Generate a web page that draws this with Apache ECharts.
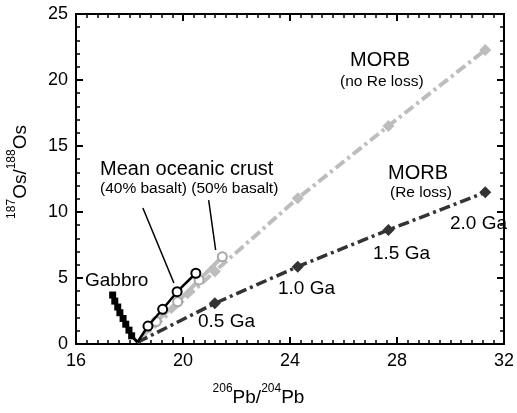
<!DOCTYPE html>
<html><head><meta charset="utf-8">
<script src="https://cdn.jsdelivr.net/npm/echarts@6/dist/echarts.min.js"></script>
<style>html,body{margin:0;padding:0;background:#fff}#c{width:517px;height:413px}</style>
</head><body><div id="c"></div>
<script>
// ---- data ----
var ages = ['0', '0.5 Ga', '1.0 Ga', '1.5 Ga', '2.0 Ga'];
var morbPb = [18.3, 21.19, 24.29, 27.68, 31.30];
var morbOsNoLoss = [0.13, 5.50, 11.04, 16.52, 22.27];
var morbOsReLoss = [0.13, 3.08, 5.86, 8.64, 11.49];
var crust40Pb = [18.3, 18.69, 19.24, 19.78, 20.48];
var crust40Os = [0.13, 1.36, 2.63, 3.96, 5.36];
var crust50Pb = [18.3, 19.0, 19.8, 20.6, 21.47];
var crust50Os = [0.13, 1.70, 3.20, 4.85, 6.61];
var gabbroPb = [17.37, 17.45, 17.56, 17.64, 17.76, 17.86, 17.98, 18.08, 18.3];
var gabbroOs = [3.71, 3.25, 2.80, 2.37, 1.93, 1.50, 1.05, 0.62, 0.13];
var leader40 = [[18.5, 10.3], [19.66, 4.62]];
var leader50 = [[20.96, 10.9], [21.22, 7.12]];
var xTicks = [16, 20, 24, 28, 32];
var yTicks = [0, 5, 10, 15, 20, 25];

var FONT = '"Liberation Sans", Arial, Helvetica, sans-serif';
var X0 = xTicks[0], X1 = xTicks[xTicks.length - 1], Y0 = yTicks[0], Y1 = yTicks[yTicks.length - 1];
function pts(xs, ys) {
  return xs.map(function (x, i) {
    var p = { value: [x, ys[i]] };
    if (i === 0) p.symbol = 'none';
    return p;
  });
}
function lastNone(xs, ys) {
  return xs.map(function (x, i) {
    var p = { value: [x, ys[i]] };
    if (i === xs.length - 1) p.symbol = 'none';
    return p;
  });
}
var supRich = {
  n: { fontSize: 19, fontFamily: FONT, fill: '#000', lineHeight: 24, verticalAlign: 'bottom' },
  sup: { fontSize: 12, fontFamily: FONT, fill: '#000', lineHeight: 24, verticalAlign: 'top', padding: [0, 0, 10, 0] }
};
function axisDef(extra, split, labels) {
  var a = {
    type: 'value',
    axisLine: { show: true, onZero: false, lineStyle: { color: '#000', width: 2 } },
    axisTick: { show: true, inside: true, length: 7, lineStyle: { color: '#000', width: 2 } },
    minorTick: { show: true, splitNumber: split, length: 4, lineStyle: { color: '#000', width: 1.5 } },
    splitLine: { show: false },
    axisLabel: labels ? { fontSize: 18, fontFamily: FONT, color: '#000', margin: 8 } : { show: false }
  };
  for (var k in extra) a[k] = extra[k];
  return a;
}

var chart = echarts.init(document.getElementById('c'), null, { renderer: 'canvas' });
var option = {
  animation: false,
  grid: { left: 76, right: 12, top: 14, bottom: 69, show: true, borderColor: '#000', borderWidth: 2 },
  xAxis: [
    axisDef({ min: X0, max: X1, interval: 4 }, 10, true),
    axisDef({ position: 'top', min: X0, max: X1, interval: 4 }, 10, false)
  ],
  yAxis: [
    axisDef({ min: Y0, max: Y1, interval: 5 }, 5, true),
    axisDef({ position: 'right', min: Y0, max: Y1, interval: 5 }, 5, false)
  ],
  series: [
    { name: 'frame', type: 'line', data: [[X0, Y0], [X0, Y1], [X1, Y1], [X1, Y0], [X0, Y0]],
      symbol: 'none', clip: false, silent: true, lineStyle: { color: '#000', width: 2 }, z: 1 },
    { name: 'MORB (no Re loss)', type: 'line', data: pts(morbPb, morbOsNoLoss),
      lineStyle: { color: '#bdbdbd', width: 4, type: [11, 4, 3, 4] },
      symbol: 'diamond', symbolSize: 12, itemStyle: { color: '#bdbdbd' }, z: 2 },
    { name: '50% basalt', type: 'line', data: pts(crust50Pb, crust50Os),
      lineStyle: { color: '#bdbdbd', width: 4 },
      symbol: 'circle', symbolSize: 9, itemStyle: { color: '#fff', borderColor: '#a8a8a8', borderWidth: 2 }, z: 3 },
    { name: 'MORB (Re loss)', type: 'line', data: pts(morbPb, morbOsReLoss),
      lineStyle: { color: '#333', width: 3.5, type: [11, 4, 3, 4] },
      symbol: 'diamond', symbolSize: 12, itemStyle: { color: '#333' }, z: 4 },
    { name: '40% basalt', type: 'line', data: pts(crust40Pb, crust40Os),
      lineStyle: { color: '#000', width: 2.5 },
      symbol: 'circle', symbolSize: 9, itemStyle: { color: '#fff', borderColor: '#000', borderWidth: 2 }, z: 5 },
    { name: 'Gabbro', type: 'line', data: lastNone(gabbroPb, gabbroOs),
      lineStyle: { color: '#000', width: 3 },
      symbol: 'rect', symbolSize: 7, itemStyle: { color: '#000' }, z: 5 },
    { name: 'lead40', type: 'line', data: leader40, symbol: 'none',
      lineStyle: { color: '#000', width: 1.5 }, z: 6 },
    { name: 'lead50', type: 'line', data: leader50, symbol: 'none',
      lineStyle: { color: '#000', width: 1.5 }, z: 6 }
  ],
  graphic: [
    { type: 'text', left: 'center', top: 383, style: { text: '{sup|206}{n|Pb/}{sup|204}{n|Pb}', rich: supRich } },
    { type: 'text', left: 6, top: 125, rotation: Math.PI / 2,
      style: { text: '{sup|187}{n|Os/}{sup|188}{n|Os}', rich: supRich } },
    { type: 'text', left: 85, top: 271, style: { text: 'Gabbro', font: '19px ' + FONT, fill: '#000' } },
    { type: 'text', left: 100, top: 159, style: { text: 'Mean oceanic crust', font: '20px ' + FONT, fill: '#000' } },
    { type: 'text', left: 100, top: 181, style: { text: '(40% basalt) (50% basalt)', font: '15.5px ' + FONT, fill: '#000' } },
    { type: 'text', left: 350, top: 50, style: { text: 'MORB', font: '20px ' + FONT, fill: '#000' } },
    { type: 'text', left: 340, top: 74, style: { text: '(no Re loss)', font: '15.5px ' + FONT, fill: '#000' } },
    { type: 'text', left: 388, top: 163, style: { text: 'MORB', font: '20px ' + FONT, fill: '#000' } },
    { type: 'text', left: 390, top: 185, style: { text: '(Re loss)', font: '15.5px ' + FONT, fill: '#000' } },
    { type: 'text', left: 198, top: 312, style: { text: ages[1], font: '19px ' + FONT, fill: '#000' } },
    { type: 'text', left: 278, top: 279, style: { text: ages[2], font: '19px ' + FONT, fill: '#000' } },
    { type: 'text', left: 373, top: 244, style: { text: ages[3], font: '19px ' + FONT, fill: '#000' } },
    { type: 'text', left: 450, top: 214, style: { text: ages[4], font: '19px ' + FONT, fill: '#000' } }
  ]
};
chart.setOption(option);
</script></body></html>
